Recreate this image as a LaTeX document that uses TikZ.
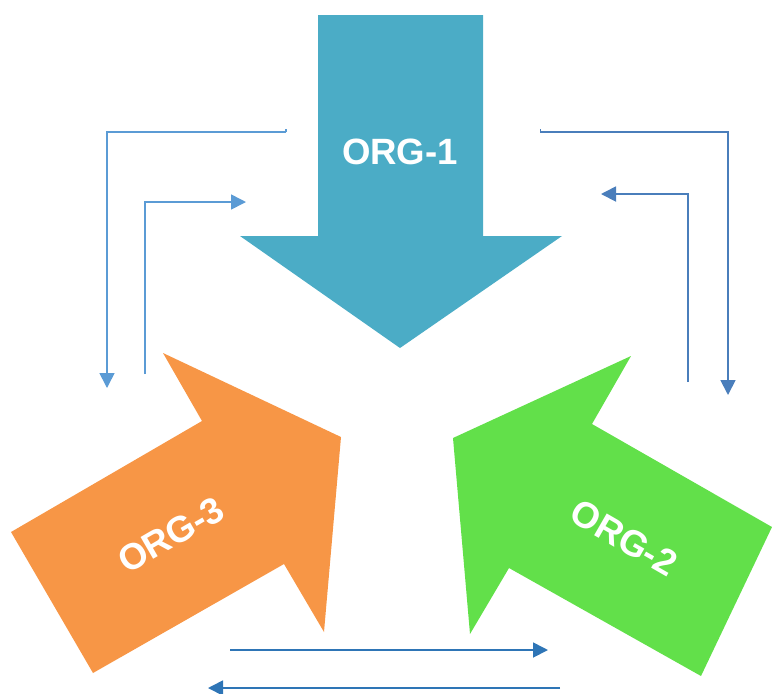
\documentclass[tikz,border=0pt]{standalone}
\usepackage{fontspec}
\setmainfont{Liberation Sans}
\usetikzlibrary{
    arrows.meta,
    positioning
}
\definecolor{OrgTeal}{RGB}{75,172,198}
\definecolor{OrgOrange}{RGB}{247,150,70}
\definecolor{OrgGreen}{RGB}{98,224,74}
\definecolor{LinkLight}{RGB}{91,155,213}
\definecolor{LinkDark}{RGB}{74,126,187}
\definecolor{LinkDeep}{RGB}{46,117,182}
\tikzset{
  orglabel/.style = {text=white, inner sep=1pt, font=\bfseries\fontsize{18.3}{21}\selectfont},
  link/.style     = {-{Triangle[length=7.5pt,width=7.5pt]}, line width=0.9pt}
}
\begin{document}
\begin{tikzpicture}[x=0.5pt, y=-0.5pt]
\useasboundingbox (0,0) rectangle (772,693);

% big arrows
\fill[OrgTeal] (318,15) -- (483,15) -- (483,236) -- (562,236) -- (400,348)
    -- (240,236) -- (318,236) -- cycle;
\fill[OrgOrange] (11,532) -- (202,421) -- (163,353) -- (341,437) -- (324,632)
    -- (284,564) -- (93,673) -- cycle;
\fill[OrgGreen] (772,527) -- (592,424) -- (631,356) -- (453,438) -- (470,634)
    -- (509,568) -- (701,676) -- cycle;

\node[orglabel] (org1) at (400,152) {ORG-1};
\node[orglabel, rotate=-30] (org2) at (624,538) {ORG-2};
\node[orglabel, rotate=30] (org3) at (171,535) {ORG-3};

% connector ends
\coordinate (tl1s) at (286,132);
\coordinate (tl1e) at (107,388);
\coordinate (tl2s) at (145,374);
\coordinate (tl2e) at (246,202);
\coordinate (tr1s) at (540,132);
\coordinate (tr1e) at (728,395);
\coordinate (tr2s) at (688,382);
\coordinate (tr2e) at (601,194);
\coordinate (b1s) at (230,650);
\coordinate (b1e) at (548,650);
\coordinate (b2s) at (560,688);
\coordinate (b2e) at (208,688);

\draw[LinkLight, line width=0.8pt] (tl1s) -- ++(0,-3);
\draw[link, LinkLight, line width=0.8pt] (tl1s) -| (tl1e);
\draw[link, LinkLight, line width=0.8pt] (tl2s) |- (tl2e);
\draw[LinkDark] (tr1s) -- ++(0,-3);
\draw[link, LinkDark] (tr1s) -| (tr1e);
\draw[link, LinkDark] (tr2s) |- (tr2e);
\draw[link, LinkDeep] (b1s) -- (b1e);
\draw[link, LinkDeep] (b2s) -- (b2e);
\end{tikzpicture}
\end{document}
